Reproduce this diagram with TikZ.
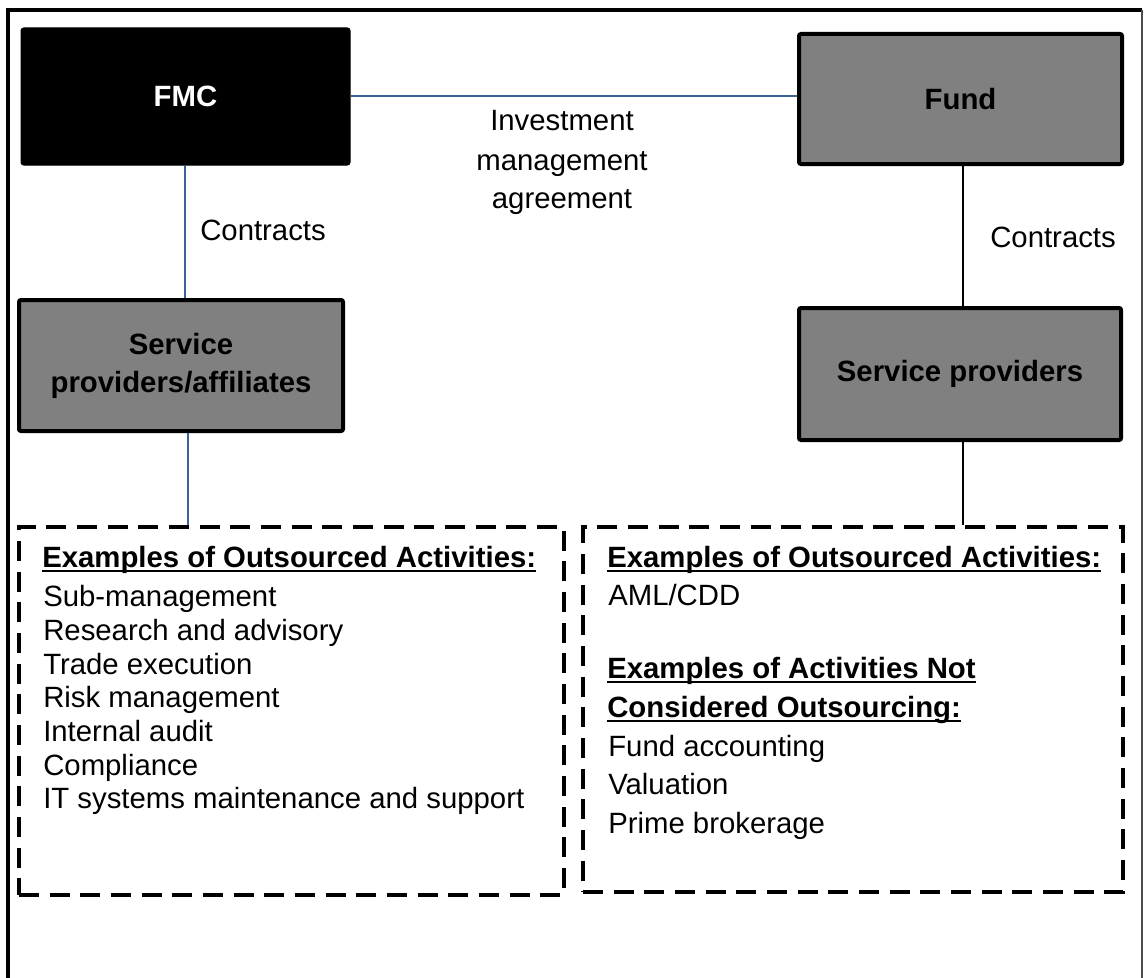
\documentclass[tikz,border=0pt]{standalone}
\usepackage{fontspec}
\setmainfont{Liberation Sans}
\usetikzlibrary{calc}
\definecolor{connblue}{RGB}{62,98,150}
\definecolor{boxgray}{RGB}{128,128,128}
\newcommand\myul[1]{\setbox0\hbox{#1}\rlap{\rule[-4pt]{\wd0}{1.5pt}}\box0}
\begin{document}
\begin{tikzpicture}[x=0.75pt,y=-0.75pt,
  txt/.style={anchor=base west,inner sep=0pt,font=\fontsize{22}{26}\selectfont},
  ctxt/.style={anchor=base,inner sep=0pt,font=\fontsize{22}{26}\selectfont},
  htxt/.style={anchor=base west,inner sep=0pt,font=\fontsize{22}{26}\selectfont\bfseries},
  graybox/.style={draw=black,fill=boxgray,line width=3pt,rounded corners=1.5pt,inner sep=0pt,
     align=center,font=\fontsize{22}{28.5}\selectfont\bfseries},
  blackbox/.style={draw=black,fill=black,line width=0.75pt,rounded corners=2pt,inner sep=0pt,
     text=white,font=\fontsize{22}{28.5}\selectfont\bfseries},
  dashbox/.style={draw=black,line width=3pt,dash pattern=on 15pt off 8pt,inner sep=0pt},
  bconn/.style={draw=connblue,line width=1.5pt},
  kconn/.style={draw=black,line width=1.3pt},
  frame/.style={draw=black,line width=2.5pt}
]
\useasboundingbox (0,0) rectangle (1144,977);
% outer frame
\draw[frame] (8,990) -- (8,10) -- (1142,10);
\draw[draw=black!70,line width=0.8pt] (1142,10) -- (1142,990);

% boxes
\node[blackbox,minimum width=246.75pt,minimum height=102.75pt] (fmc) at (185.5,96.5) {FMC};
\node[graybox,minimum width=242.25pt,minimum height=97.5pt] (fund) at (960.5,99) {Fund};
\node[graybox,minimum width=243pt,minimum height=98.25pt] (spa) at (181,365.5) {Service\\providers/affiliates};
\node[graybox,minimum width=241.5pt,minimum height=99pt] (sp) at (960,374) {Service providers};
\node[dashbox,minimum width=408.75pt,minimum height=276pt] (lbox) at (291.5,711) {};
\node[dashbox,minimum width=405pt,minimum height=273.75pt] (rbox) at (853,709.5) {};

% connectors
\draw[bconn] (fmc.east |- 0,96) -- (fund.west |- 0,96);
\draw[bconn] ([xshift=-0.375pt]fmc.south) -- ([xshift=-0.375pt]fmc.south |- spa.north);
\draw[bconn] ([xshift=5.25pt]spa.south) -- ([xshift=5.25pt]spa.south |- lbox.north);
\draw[kconn] ([xshift=2pt]fund.south) -- ([xshift=2pt]fund.south |- sp.north);
\draw[kconn] ([xshift=2pt]sp.south) -- ([xshift=2pt]sp.south |- rbox.north);

% labels
\node[txt] (c1) at (200,240) {Contracts};
\node[txt] (c2) at (990,247) {Contracts};
\node[ctxt] (ima1) at (562,131) {Investment};
\node[ctxt] (ima2) at (562,170) {management};
\node[ctxt] (ima3) at (562,208) {agreement};

% left box content
\node[htxt] (lh) at (42,567) {\myul{Examples of Outsourced Activities:}};
\node[txt] (l1) at (43,606) {Sub-management};
\node[txt] (l2) at (43,640) {Research and advisory};
\node[txt] (l3) at (43,674) {Trade execution};
\node[txt] (l4) at (43,707) {Risk management};
\node[txt] (l5) at (43,741) {Internal audit};
\node[txt] (l6) at (43,775) {Compliance};
\node[txt] (l7) at (43,808) {IT systems maintenance and support};

% right box content
\node[htxt] (rh) at (607,567) {\myul{Examples of Outsourced Activities:}};
\node[txt] (r1) at (608,605) {AML/CDD};
\node[htxt] (rh2) at (607,678) {\myul{Examples of Activities Not}};
\node[htxt] (rh3) at (607,717) {\myul{Considered Outsourcing:}};
\node[txt] (r2) at (608,756) {Fund accounting};
\node[txt] (r3) at (608,794) {Valuation};
\node[txt] (r4) at (608,833) {Prime brokerage};
\end{tikzpicture}
\end{document}
